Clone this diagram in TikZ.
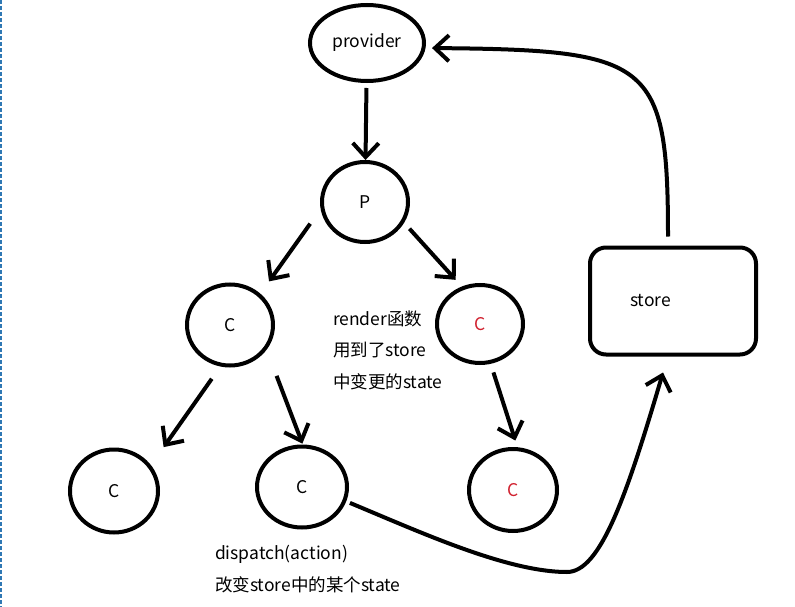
\documentclass[tikz,border=0pt]{standalone}
\usepackage{fontspec}
\setmainfont{Noto Sans CJK SC}
\usetikzlibrary{arrows.meta,shapes.geometric,positioning}

\definecolor{compred}{HTML}{D0202E}
\definecolor{selblue}{HTML}{2F78B4}

\begin{document}
\begin{tikzpicture}[x=1pt, y=-1pt, >={Straight Barb[length=14pt,width=26pt]}, line width=4pt,
    comp/.style={draw, ellipse, inner sep=0pt, minimum width=86pt, minimum height=80pt},
    txt/.style={align=left, inner sep=0pt},
    every node/.style={font=\fontsize{17.5pt}{31.5pt}\selectfont}]
    \useasboundingbox (0,0) rectangle (795,607);
    \draw [selblue, line width=1.5pt, dash pattern=on 4pt off 2pt] (1,0) -- (1,607);

    % Nodes {prov, P, Cl, Cr, Cbl, Cbm, Cbr, store}
    \node [comp, minimum width=114pt, minimum height=76pt] (prov)  at (367,43)  {provider};
    \node [comp]                                          (P)     at (365,202) {P};
    \node [comp, minimum height=81pt]                     (Cl)    at (230,325) {C};
    \node [comp, minimum height=78pt, text=compred]       (Cr)    at (480,324) {C};
    \node [comp, minimum width=88pt, minimum height=83pt] (Cbl)   at (114,491) {C};
    \node [comp, minimum width=90pt, minimum height=81pt] (Cbm)   at (302,487) {C};
    \node [comp, minimum width=88pt, minimum height=82pt, text=compred] (Cbr) at (513,490) {C};
    \node [draw, rounded corners=16pt, minimum height=107pt, text width=86pt, inner xsep=40pt, align=left]
                                                          (store) at (673,301) {store};

    % Texts
    \node [txt, anchor=west] (rtxt) at (331,350) {render函数\\用到了store\\中变更的state};
    \node [txt, anchor=west] (dtxt) at (213,569) {dispatch(action)\\改变store中的某个state};

    % Paths
    \path [->] (prov)  edge [shorten <=5pt]                  (P);
    \path [->] (P.189) edge [shorten <=18pt, shorten >=15pt] (Cl.46);
    \path [->] (P.332) edge [shorten <=8pt, shorten >=9pt]   (Cr.116);
    \path [->] (Cl.257) edge [shorten <=15pt, shorten >=22pt] (Cbl.35);
    \path [->] (Cl.326) edge [shorten <=28pt, shorten >=1pt]  (Cbm.89);
    \path [->] (Cr.285) edge [shorten <=9pt, shorten >=7pt]   (Cbr.84);

    \coordinate (dip) at (567,572);
    \draw [->, shorten <=4pt] (Cbm.342) .. controls (420,532) and (507,572) .. (dip)
        .. controls (600,572) and (626,498) .. ([xshift=-10pt, yshift=-16pt]store.south);
    \draw [->, shorten <=9pt, shorten >=6pt] ([xshift=-5pt]store.north)
        .. controls (668,60) and (650,50) .. ([yshift=-5pt]prov.east);
\end{tikzpicture}
\end{document}
